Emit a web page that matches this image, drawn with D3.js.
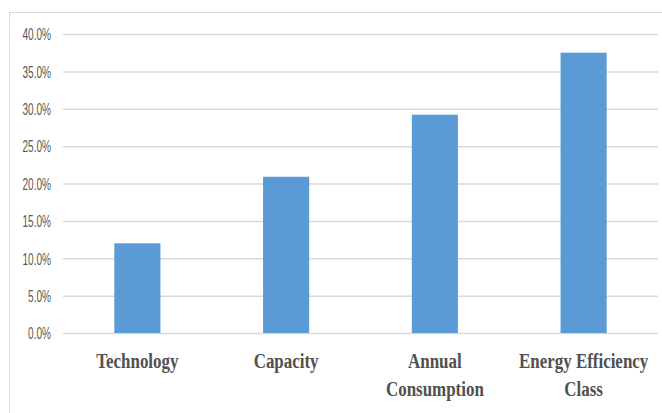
<!DOCTYPE html>
<html>
<head>
<meta charset="utf-8">
<script src="https://cdn.jsdelivr.net/npm/d3@7/dist/d3.min.js"></script>
<style>
  html, body { margin: 0; padding: 0; background: #fff; }
  svg { display: block; }
</style>
</head>
<body>
<svg id="chart" width="662" height="413"></svg>
<script>
// Share of respondents citing each purchase attribute
const categories = ["Technology", "Capacity", "Annual Consumption", "Energy Efficiency Class"];
const categoryLines = [["Technology"], ["Capacity"], ["Annual", "Consumption"], ["Energy Efficiency", "Class"]];
const shares = [0.120, 0.209, 0.292, 0.375];
const yTicks = [0, 0.05, 0.10, 0.15, 0.20, 0.25, 0.30, 0.35, 0.40];

const svg = d3.select("#chart");
const plot = { left: 63, right: 658, top: 34, bottom: 333 };

// Chart area frame
svg.append("rect")
  .attr("x", 9.5).attr("y", 12.5)
  .attr("width", 700).attr("height", 450)
  .attr("fill", "none").attr("stroke", "#d9d9d9").attr("stroke-width", 1);

const x = d3.scaleBand()
  .domain(categories)
  .range([plot.left, plot.right])
  .paddingInner(0.69)
  .paddingOuter(0.345);

const y = d3.scaleLinear().domain([0, 0.4]).range([plot.bottom, plot.top]);

// Value axis with gridlines
const yAxis = svg.append("g")
  .attr("transform", `translate(${plot.left},0)`)
  .call(d3.axisLeft(y).tickValues(yTicks).tickFormat(d3.format(".1%")).tickSize(-(plot.right - plot.left)).tickPadding(0));
yAxis.select(".domain").remove();
yAxis.selectAll(".tick line").attr("stroke", "#d9d9d9").attr("stroke-width", 1.5);
const ySx = 0.63;
yAxis.selectAll(".tick text")
  .attr("font-family", "'Liberation Sans', Arial, sans-serif")
  .attr("font-size", 16)
  .attr("fill", "#595959")
  .attr("text-anchor", "end")
  .attr("dy", "0.36em")
  .attr("transform", `scale(${ySx},1)`)
  .attr("x", -12 / ySx);

// Bars
svg.append("g").selectAll("rect")
  .data(shares)
  .join("rect")
  .attr("x", (d, i) => x(categories[i]))
  .attr("y", d => y(d))
  .attr("width", x.bandwidth())
  .attr("height", d => y(0) - y(d))
  .attr("fill", "#5b9bd5");

// Category labels
const xSx = 0.77;
const labels = svg.append("g");
categories.forEach((c, i) => {
  const cx = x(c) + x.bandwidth() / 2;
  const t = labels.append("text")
    .attr("transform", `translate(${cx},368) scale(${xSx},1)`)
    .attr("text-anchor", "middle")
    .attr("font-family", "'Liberation Serif', 'Times New Roman', serif")
    .attr("font-weight", "bold")
    .attr("font-size", 22)
    .attr("fill", "#505050");
  categoryLines[i].forEach((line, j) => {
    t.append("tspan").attr("x", 0).attr("y", j * 28).text(line);
  });
});
</script>
</body>
</html>
